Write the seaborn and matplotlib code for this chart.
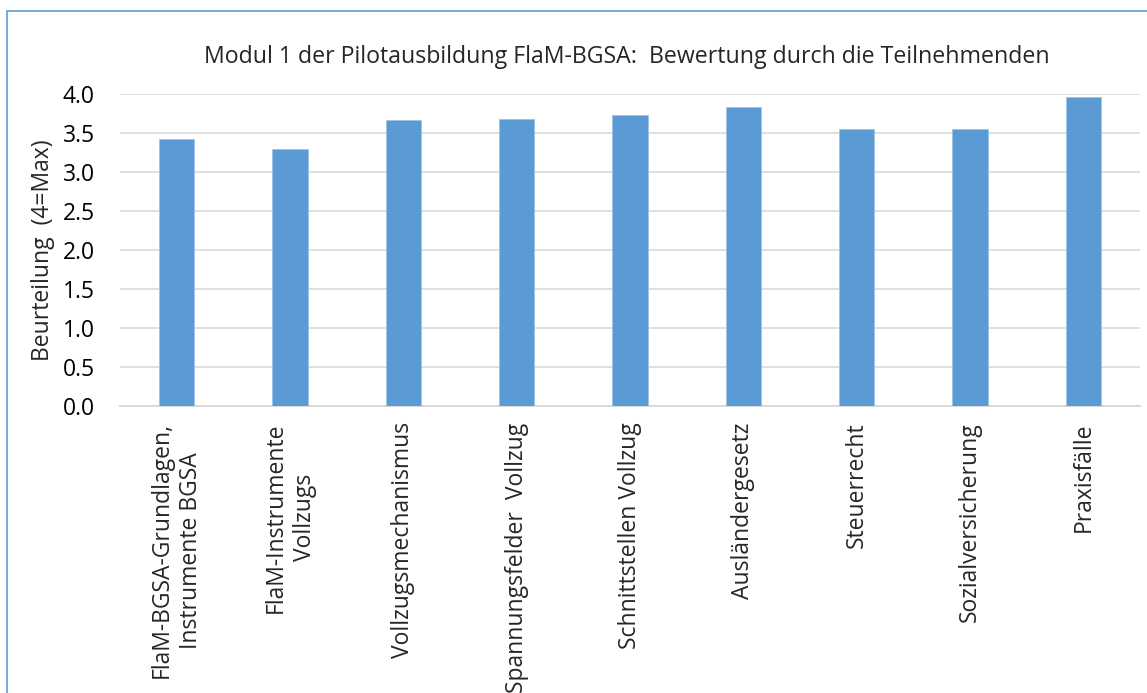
import matplotlib
matplotlib.use("Agg")
import matplotlib.pyplot as plt
import seaborn as sns
import pandas as pd
from matplotlib.patches import Rectangle

categories = [
    "FlaM-BGSA-Grundlagen,\nInstrumente BGSA",
    "FlaM-Instrumente\nVollzugs",
    "Vollzugsmechanismus",
    "Spannungsfelder  Vollzug",
    "Schnittstellen Vollzug",
    "Ausländergesetz",
    "Steuerrecht",
    "Sozialversicherung",
    "Praxisfälle",
]
values = [3.42, 3.30, 3.67, 3.68, 3.73, 3.84, 3.56, 3.56, 3.96]
y_ticks = [0.0, 0.5, 1.0, 1.5, 2.0, 2.5, 3.0, 3.5, 4.0]
title = "Modul 1 der Pilotausbildung FlaM-BGSA:  Bewertung durch die Teilnehmenden"
ylabel = "Beurteilung  (4=Max)"

sns.set_style("white")
plt.rcParams['font.family'] = ['Open Sans', 'DejaVu Sans']

W, H = 1147, 693
FS = 16.5
fig = plt.figure(figsize=(W / 100, H / 100), dpi=100)
ax = fig.add_axes([120 / W, (H - 405.7) / H, (1140 - 120) / W, (405.7 - 94.3) / H])

df = pd.DataFrame({"cat": categories, "val": values})
sns.barplot(data=df, x="cat", y="val", ax=ax, color="#5B9BD5", width=0.31,
            saturation=1, edgecolor="#9DC3E6", linewidth=0.6, zorder=3)

ax.set_ylim(0, 4)
ax.set_xlim(-0.5, len(categories) - 0.5)
ax.set_yticks(y_ticks)
ax.set_yticklabels([f"{t:.1f}" for t in y_ticks], fontsize=FS, color="#000000")
ax.yaxis.grid(True, color="#D9D9D9", linewidth=1.2, zorder=0)
ax.set_axisbelow(True)
for s in ["left", "right", "top"]:
    ax.spines[s].set_visible(False)
ax.spines["bottom"].set_color("#D9D9D9")
ax.spines["bottom"].set_linewidth(1.5)
ax.tick_params(axis="both", length=0)
ax.tick_params(axis="y", pad=18)
ax.set_xlabel("")
ax.set_ylabel(ylabel, fontsize=FS, labelpad=6)
ax.set_xticks(range(len(categories)))
ax.set_xticklabels(categories, rotation=90, fontsize=FS, va="top", ha="center",
                   multialignment="center", linespacing=1.3)
ax.tick_params(axis="x", pad=12)

fig.text(627 / W, 1 - 57 / H, title, ha="center", va="center", fontsize=16.7,
         family=["Open Sans", "DejaVu Sans"])

fig.patches.append(Rectangle((7 / W, -0.1), 1.2, (H - 11) / H + 0.1,
                             transform=fig.transFigure, fill=False,
                             edgecolor="#5B9BD5", linewidth=1.2))

fig.savefig("out.png", dpi=100)
